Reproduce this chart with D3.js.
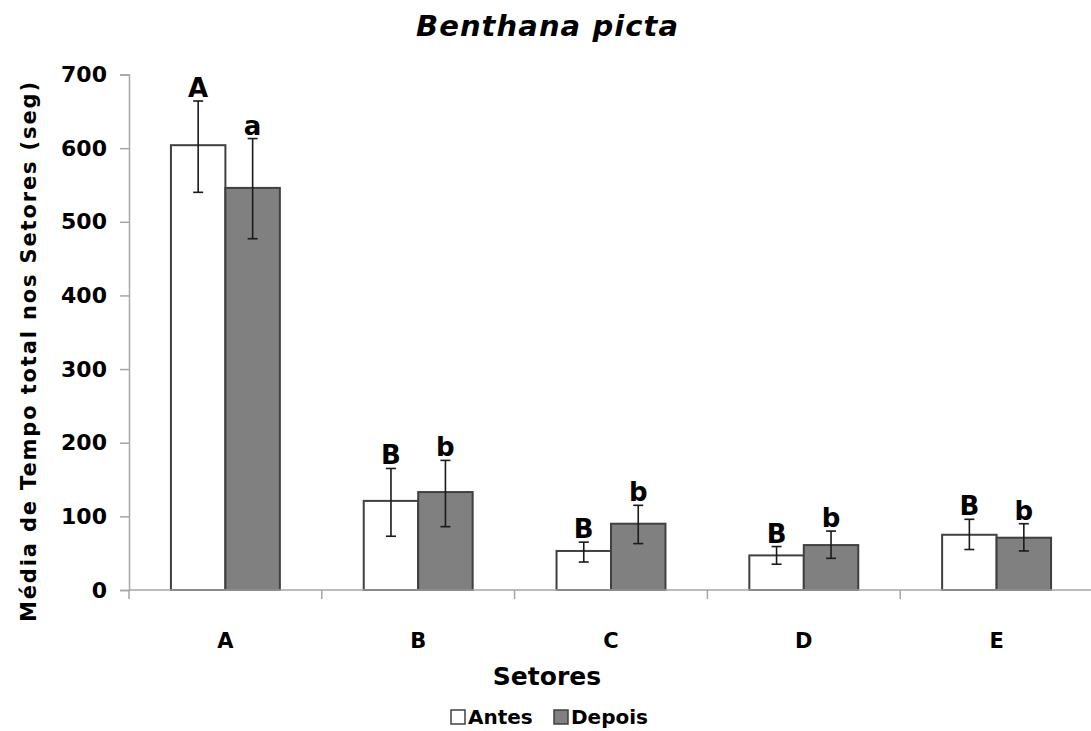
<!DOCTYPE html>
<html>
<head>
<meta charset="utf-8">
<script src="https://cdn.jsdelivr.net/npm/d3@7"></script>
<style>
  body { margin: 0; background: #fff; }
  svg { display: block; }
</style>
</head>
<body>
<script>
// sectors and series
var setores = ["A", "B", "C", "D", "E"];
var series = ["Antes", "Depois"];
var antes = [604, 121, 53, 47, 75];
var depois = [546, 133, 90, 61, 71];
var antesErr = [[540, 664], [73, 165], [38, 65], [35, 59], [55, 96]];
var depoisErr = [[477, 613], [86, 176], [63, 115], [43, 80], [53, 90]];
var antesLetras = ["A", "B", "B", "B", "B"];
var depoisLetras = ["a", "b", "b", "b", "b"];
var yTicks = [0, 100, 200, 300, 400, 500, 600, 700];

var width = 1091, height = 731;
var font = "'DejaVu Sans', sans-serif";

var svg = d3.select("body").append("svg")
    .attr("width", width)
    .attr("height", height);

var x = d3.scaleBand()
    .domain(setores)
    .range([129, 1093])
    .paddingInner(0.435)
    .paddingOuter(0.2175);

var xs = d3.scaleBand()
    .domain(series)
    .range([0, x.bandwidth()]);

var y = d3.scaleLinear()
    .domain([0, 700])
    .range([590, 74.5]);

var color = {Antes: "#ffffff", Depois: "#808080"};

// build rows
var rows = [];
setores.forEach(function(s, i) {
    rows.push({setor: s, serie: "Antes", v: antes[i], err: antesErr[i], letra: antesLetras[i]});
    rows.push({setor: s, serie: "Depois", v: depois[i], err: depoisErr[i], letra: depoisLetras[i]});
});

// y axis
var yAxis = svg.append("g")
    .attr("transform", "translate(129,0)")
    .call(d3.axisLeft(y).tickValues(yTicks).tickSize(9).tickPadding(13));
yAxis.select(".domain").attr("stroke", "#a6a6a6").attr("stroke-width", 1.5);
yAxis.selectAll(".tick line").attr("stroke", "#a6a6a6").attr("stroke-width", 1.5);
yAxis.selectAll(".tick text")
    .attr("font-family", font)
    .attr("font-weight", "bold")
    .attr("font-size", 22)
    .attr("fill", "#000");

// bars
svg.append("g").selectAll("rect")
    .data(rows)
    .join("rect")
    .attr("x", d => x(d.setor) + xs(d.serie))
    .attr("y", d => y(d.v))
    .attr("width", xs.bandwidth())
    .attr("height", d => y(0) - y(d.v))
    .attr("fill", d => color[d.serie])
    .attr("stroke", "#404040")
    .attr("stroke-width", 2);

// x axis (drawn after bars so baseline sits on top)
var xAxis = svg.append("g")
    .attr("transform", "translate(0,590)");
xAxis.append("line")
    .attr("x1", 129).attr("x2", 1093)
    .attr("stroke", "#a6a6a6").attr("stroke-width", 1.5);
var bounds = setores.map(s => x(s) - x.step() * x.paddingInner() / 2).concat([1093]);
xAxis.selectAll(".xt")
    .data(bounds)
    .join("line")
    .attr("class", "xt")
    .attr("x1", d => d).attr("x2", d => d)
    .attr("y1", 0).attr("y2", 9)
    .attr("stroke", "#a6a6a6").attr("stroke-width", 1.5);
xAxis.selectAll(".xl")
    .data(setores)
    .join("text")
    .attr("class", "xl")
    .attr("x", d => x(d) + x.bandwidth() / 2)
    .attr("y", 58)
    .attr("text-anchor", "middle")
    .attr("font-family", font)
    .attr("font-weight", "bold")
    .attr("font-size", 21)
    .text(d => d);

// error bars
var eb = svg.append("g").attr("stroke", "#1a1a1a").attr("stroke-width", 1.6);
rows.forEach(function(d) {
    var cx = x(d.setor) + xs(d.serie) + xs.bandwidth() / 2;
    eb.append("line").attr("x1", cx).attr("x2", cx).attr("y1", y(d.err[0])).attr("y2", y(d.err[1]));
    eb.append("line").attr("x1", cx - 5).attr("x2", cx + 5).attr("y1", y(d.err[0])).attr("y2", y(d.err[0]));
    eb.append("line").attr("x1", cx - 5).attr("x2", cx + 5).attr("y1", y(d.err[1])).attr("y2", y(d.err[1]));
});

// significance letters
svg.append("g").selectAll("text")
    .data(rows)
    .join("text")
    .attr("x", d => x(d.setor) + xs(d.serie) + xs.bandwidth() / 2)
    .attr("y", d => y(d.err[1]) - 4)
    .attr("text-anchor", "middle")
    .attr("font-family", font)
    .attr("font-weight", "bold")
    .attr("font-size", 26)
    .text(d => d.letra);

// title
svg.append("text")
    .attr("x", 547).attr("y", 36)
    .attr("text-anchor", "middle")
    .attr("font-family", font)
    .attr("font-weight", "bold")
    .attr("font-style", "italic")
    .attr("font-size", 29)
    .attr("textLength", 262)
    .attr("lengthAdjust", "spacing")
    .text("Benthana picta");

// axis titles
svg.append("text")
    .attr("transform", "translate(36,352) rotate(-90)")
    .attr("text-anchor", "middle")
    .attr("font-family", font)
    .attr("font-weight", "bold")
    .attr("font-size", 21)
    .attr("textLength", 540)
    .attr("lengthAdjust", "spacing")
    .text("Média de Tempo total nos Setores (seg)");

svg.append("text")
    .attr("x", 547).attr("y", 685)
    .attr("text-anchor", "middle")
    .attr("font-family", font)
    .attr("font-weight", "bold")
    .attr("font-size", 25)
    .text("Setores");

// legend
var legend = svg.append("g");
var legX = [451, 554];
series.forEach(function(s, i) {
    legend.append("rect")
        .attr("x", legX[i]).attr("y", 710)
        .attr("width", 14).attr("height", 14)
        .attr("fill", color[s])
        .attr("stroke", "#404040")
        .attr("stroke-width", 1.5);
    legend.append("text")
        .attr("x", legX[i] + 17).attr("y", 724)
        .attr("font-family", font)
        .attr("font-weight", "bold")
        .attr("font-size", 20)
        .text(s);
});
</script>
</body>
</html>
